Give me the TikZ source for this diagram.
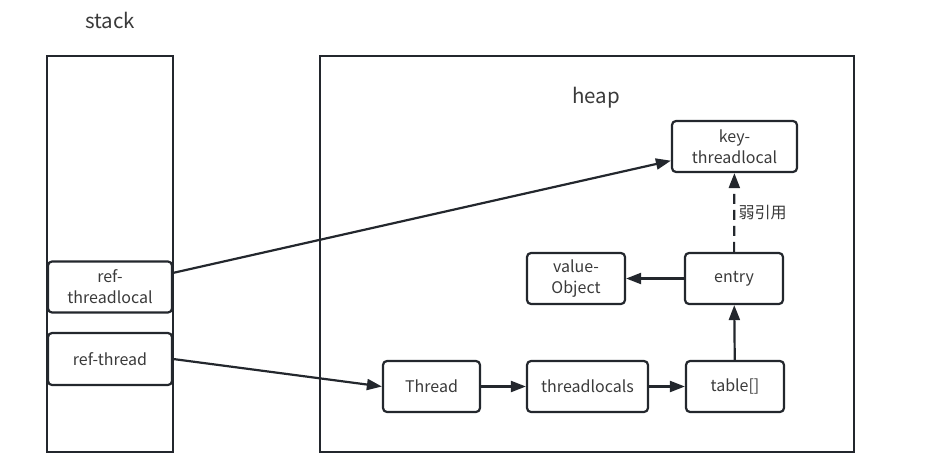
\documentclass[tikz,border=0pt]{standalone}
\usepackage{fontspec}
\setmainfont{Noto Sans CJK SC}
\usetikzlibrary{arrows.meta}
\definecolor{linegray}{HTML}{23272D}
\definecolor{textgray}{HTML}{3A3A3A}
\begin{document}
\begin{tikzpicture}[x=1pt,y=-1pt,line width=2.2pt,draw=linegray,
		-{Triangle[length=15pt,width=11pt]},
		box/.style={draw=linegray,rounded corners=4pt,text=textgray,align=center,inner sep=0pt,minimum width=#1,minimum height=51pt,font=\fontsize{16}{21}\selectfont},
		box/.default=98pt]
			\useasboundingbox (0,0) rectangle (938,463);
			\node (stacklbl) [text=textgray,font=\fontsize{20.5}{24}\selectfont] at (110,20) {stack};
			\node (heaplbl) [text=textgray,font=\fontsize{20.5}{24}\selectfont] at (596,98) {heap};
			\draw[-,draw=linegray] (47,56) rectangle (173,452);
			\draw[-,draw=linegray] (320,56) rectangle (854,452);
			\node (rtl) [box=124pt] at (110,287) {ref-\\threadlocal};
			\node (rt) [box=124pt,minimum height=52pt] at (110,359) {ref-thread};
			\node (key) [box=125pt] at (734.5,146.5) {key-\\threadlocal};
			\node (val) [box] at (576,278.5) {value-\\Object};
			\node (entry) [box] at (734,278.5) {entry};
			\node (thr) [box=97pt] at (431.5,386.5) {Thread};
			\node (tls) [box=121pt] at (587.5,386.5) {threadlocals};
			\node (tab) [box] at (735,386.5) {table[]};
			\draw (rtl) -- (key);
			\draw (rt.east) -- (thr.west);
			\draw (thr) -- (tls);
			\draw (tls) -- (tab);
			\draw (tab) -- (entry);
			\draw (entry) -- (val);
			\draw[dash pattern=on 10pt off 6pt] (entry) -- node[right,draw=none,text=textgray,font=\fontsize{16}{19}\selectfont] {弱引用} (key);
		\end{tikzpicture}
\end{document}
